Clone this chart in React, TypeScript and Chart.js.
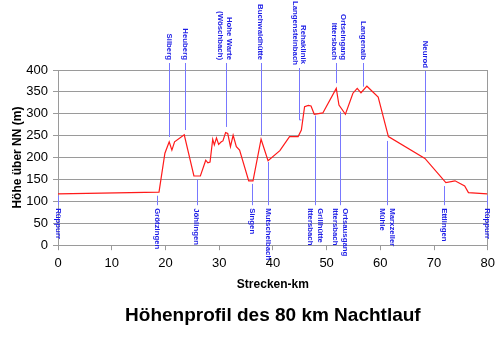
import { useEffect, useRef } from "react";
import { Chart, registerables } from "chart.js";

Chart.register(...registerables);

// Elevation profile (km, m)
const profileKm = [0, 18.8, 19.9, 20.7, 21.2, 21.7, 23.5, 25.3, 26.5, 27.5, 27.9, 28.3, 28.8, 29.1, 29.5, 29.9, 30.4, 30.7, 31.2, 31.6, 32.1, 32.6, 33.2, 33.8, 35.5, 36.3, 37.8, 39.1, 41.3, 43.1, 44.7, 45.3, 45.9, 46.6, 47.1, 47.7, 49.3, 51.8, 52.3, 53.5, 54.9, 55.7, 56.4, 57.5, 59.6, 61.5, 68.3, 72.2, 73.9, 75.7, 76.4, 79.9];
const profileHeight = [117, 121, 210, 236, 217, 236, 252, 158, 158, 194, 188, 190, 242, 229, 245, 230, 236, 238, 257, 255, 225, 251, 225, 217, 147, 147, 242, 193, 216, 248, 248, 263, 316, 319, 318, 299, 302, 358, 320, 299, 347, 358, 348, 363, 338, 248, 198, 143, 147, 135, 120, 117];

// Place names above the profile
const topLabels = ["Silberg", "Heuberg", "Hohe Warte\n(Wöschbach)", "Buchwaldhütte", "Langensteinbach", "Rehaklinik", "Ortseingang\nIttersbach", "Langenalb", "Neurod"];
const topKm = [20.7, 23.6, 31.0, 37.7, 44.1, 45.6, 52.2, 56.8, 68.3];
const topLineKm = [20.7, 23.6, 31.2, 37.7, 44.8, null, 51.8, 56.8, 68.3];
const topLineEnd = [247, 263, 270, 251, 286, null, 370, 362, 213];
const topLineBendKm = [null, null, null, null, 45.3, null, null, null, null];

// Place names below the profile
const bottomLabels = ["Rüppurr", "Grötzingen", "Jöhlingen", "Singen", "Mutschelbach", "Grillhütte\nIttersbach", "Ortsausgang\nIttersbach", "Marxzeller\nMühle", "Ettlingen", "Rüppurr"];
const bottomKm = [0, 18.4, 25.8, 36.1, 39.1, 47.9, 52.5, 61.3, 71.9, 79.8];
const bottomLineStart = [113, 113, 150, 140, 190, 296, 305, 238, 135, 113];

const xTicks = [0, 10, 20, 30, 40, 50, 60, 70, 80];

const FONT = "'Liberation Sans', Arial, sans-serif";
const GRID = "#9a9a9a";
const MARKER = "#7878ff";
const LABEL = "#1c1ce6";
// extra downward shift (px) of a few top label ends, as in the original layout
const TOP_LABEL_DROP: Record<string, number> = { Langensteinbach: 5, Rehaklinik: 4, Neurod: 8 };

const annotate = {
  id: "annotate",
  afterDatasetsDraw(chart: any) {
    const { ctx, chartArea, scales } = chart;
    const xs = scales.x;
    const ys = scales.y;
    ctx.save();
    ctx.strokeStyle = MARKER;
    ctx.lineWidth = 1;
    topLineKm.forEach((km, i) => {
      if (km == null) return;
      const px = Math.round(xs.getPixelForValue(km)) + 0.5;
      const endY = ys.getPixelForValue(topLineEnd[i] as number);
      const drop = TOP_LABEL_DROP[topLabels[i]] || 0;
      ctx.beginPath();
      ctx.moveTo(px, chartArea.top - 7 + drop);
      ctx.lineTo(px, endY);
      const b = topLineBendKm[i];
      if (b != null) ctx.lineTo(xs.getPixelForValue(b), endY);
      ctx.stroke();
    });
    const labelTop = ys.getPixelForValue(0) - 37;
    bottomKm.forEach((km, i) => {
      const px = Math.round(xs.getPixelForValue(km)) + 0.5;
      ctx.beginPath();
      ctx.moveTo(px, ys.getPixelForValue(bottomLineStart[i]));
      ctx.lineTo(px, labelTop - 3);
      ctx.stroke();
    });

    ctx.fillStyle = LABEL;
    ctx.font = `bold 7.8px ${FONT}`;
    ctx.textBaseline = "middle";
    const lh = 9.5;
    const drawLabel = (text: string, km: number, y: number, align: "left" | "right") => {
      const lines = text.split("\n");
      const px = xs.getPixelForValue(km);
      ctx.save();
      ctx.translate(px, y);
      ctx.rotate(Math.PI / 2);
      ctx.textAlign = align;
      lines.forEach((ln, j) => {
        ctx.fillText(ln, 0, (j - (lines.length - 1) / 2) * lh);
      });
      ctx.restore();
    };
    topLabels.forEach((t, i) => drawLabel(t, topKm[i], chartArea.top - 10 + (TOP_LABEL_DROP[t] || 0), "right"));
    bottomLabels.forEach((t, i) => drawLabel(t, bottomKm[i], labelTop, "left"));
    ctx.restore();
  },
};

export default function App() {
  const ref = useRef<HTMLCanvasElement>(null);
  useEffect(() => {
    if (!ref.current) return;
    const chart = new Chart(ref.current, {
      type: "line",
      data: {
        datasets: [
          {
            data: profileKm.map((km, i) => ({ x: km, y: profileHeight[i] })),
            borderColor: "#ff1a1a",
            borderWidth: 1.2,
            pointRadius: 0,
            tension: 0,
            fill: false,
          },
        ],
      },
      options: {
        animation: false,
        responsive: false,
        layout: { padding: { left: 0, top: 70, right: 12, bottom: 25 } },
        plugins: {
          legend: { display: false },
          tooltip: { enabled: false },
          title: {
            display: true,
            text: "Höhenprofil des 80 km Nachtlauf",
            position: "bottom",
            fullSize: false,
            color: "#000",
            font: { family: FONT, size: 19, weight: "bold", lineHeight: 1.2 },
            padding: 0,
          },
        },
        scales: {
          x: {
            type: "linear",
            min: 0,
            max: 80,
            afterFit: (s: any) => {
              s.height = 59;
            },
            afterBuildTicks: (s: any) => {
              s.ticks = xTicks.map((v) => ({ value: v }));
            },
            ticks: { color: "#000", font: { family: FONT, size: 13 }, padding: 5, maxRotation: 0 },
            grid: {
              color: (c: any) => (c.tick && c.tick.value === 80 ? GRID : "rgba(0,0,0,0)"),
              tickColor: GRID,
              tickLength: 5,
              drawOnChartArea: true,
            },
            border: { display: true, color: GRID },
            title: {
              display: true,
              text: "Strecken-km",
              color: "#000",
              font: { family: FONT, size: 12, weight: "bold", lineHeight: 1.2 },
              padding: { top: 0, bottom: 12.5 },
            },
          },
          y: {
            min: 0,
            max: 400,
            afterFit: (s: any) => {
              s.width = 58;
            },
            ticks: { stepSize: 50, color: "#000", font: { family: FONT, size: 13 }, padding: 5 },
            grid: { color: GRID, tickColor: GRID, tickLength: 5 },
            border: { display: true, color: GRID },
            title: {
              display: true,
              text: "Höhe über NN (m)",
              color: "#000",
              font: { family: FONT, size: 12, weight: "bold", lineHeight: 1.2 },
              padding: { top: 10, bottom: 0 },
            },
          },
        },
      },
      plugins: [annotate],
    } as any);
    return () => chart.destroy();
  }, []);
  return (
    <div style={{ position: "absolute", left: 0, top: 0, width: 500, height: 352, background: "#fff" }}>
      <canvas ref={ref} width={500} height={352} style={{ width: 500, height: 352 }} />
    </div>
  );
}
